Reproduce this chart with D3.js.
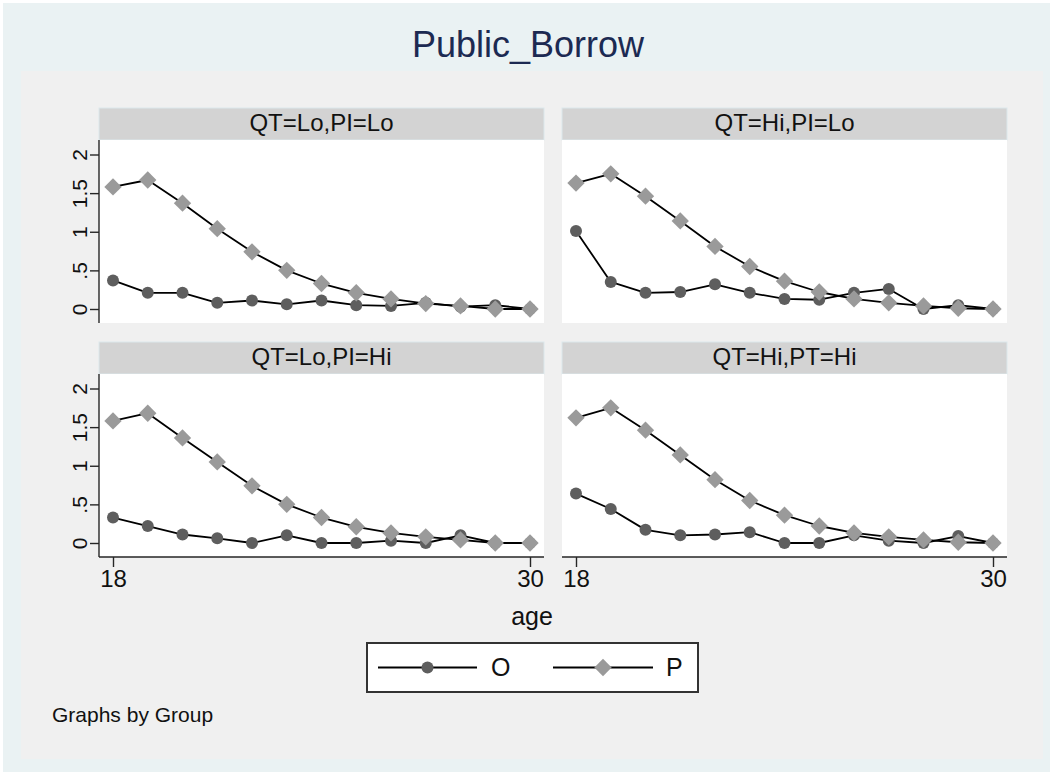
<!DOCTYPE html>
<html>
<head>
<meta charset="utf-8">
<script src="https://cdn.jsdelivr.net/npm/d3@7"></script>
<style>
  html, body { margin: 0; padding: 0; background: #ffffff; }
  svg { display: block; }
  text { font-family: "Liberation Sans", Arial, Helvetica, sans-serif; }
</style>
</head>
<body>
<svg id="chart" width="1050" height="772"></svg>
<script>
// ---- data ----
const ages = [18, 19, 20, 21, 22, 23, 24, 25, 26, 27, 28, 29, 30];
const panelTitles = ["QT=Lo,PI=Lo", "QT=Hi,PI=Lo", "QT=Lo,PI=Hi", "QT=Hi,PT=Hi"];
const seriesNames = ["O", "P"];
const oLoLo = [0.37, 0.21, 0.21, 0.08, 0.11, 0.06, 0.11, 0.05, 0.04, 0.08, 0.03, 0.05, 0.00];
const pLoLo = [1.58, 1.67, 1.37, 1.04, 0.74, 0.50, 0.33, 0.21, 0.13, 0.07, 0.04, 0.00, 0.00];
const oHiLo = [1.01, 0.35, 0.21, 0.22, 0.32, 0.21, 0.13, 0.12, 0.21, 0.26, 0.00, 0.05, 0.00];
const pHiLo = [1.63, 1.75, 1.46, 1.14, 0.81, 0.55, 0.36, 0.22, 0.13, 0.08, 0.04, 0.01, 0.00];
const oLoHi = [0.33, 0.22, 0.11, 0.06, 0.00, 0.10, 0.00, 0.00, 0.03, 0.00, 0.10, 0.00, 0.00];
const pLoHi = [1.58, 1.68, 1.36, 1.05, 0.74, 0.50, 0.33, 0.21, 0.13, 0.08, 0.04, 0.00, 0.00];
const oHiHi = [0.64, 0.44, 0.17, 0.10, 0.11, 0.14, 0.00, 0.00, 0.10, 0.03, 0.00, 0.09, 0.00];
const pHiHi = [1.62, 1.75, 1.46, 1.14, 0.82, 0.55, 0.36, 0.22, 0.13, 0.08, 0.04, 0.01, 0.00];
const yTickValues = [0, 0.5, 1, 1.5, 2];
const yTickLabels = ["0", ".5", "1", "1.5", "2"];
const xTickValues = [18, 30];

const panelO = [oLoLo, oHiLo, oLoHi, oHiHi];
const panelP = [pLoLo, pHiLo, pLoHi, pHiHi];

// ---- layout ----
const svg = d3.select("#chart");
const colX = [99, 562];
const panelW = 445;
const stripY = [108, 342];
const stripH = 32;
const plotH = 183;
const circleColor = "#5e5e5e";
const diamondColor = "#9a9a9a";
const axisColor = "#262626";

svg.append("rect").attr("x", 3).attr("y", 3).attr("width", 1047).attr("height", 769).attr("fill", "#eaf2f3");
svg.append("rect").attr("x", 21).attr("y", 71).attr("width", 1022).attr("height", 688).attr("fill", "#f0f0f0");

svg.append("text").attr("x", 528).attr("y", 57).attr("text-anchor", "middle")
  .attr("font-size", 36).attr("fill", "#1c2a52").text("Public_Borrow");

const diamond = d3.symbol().type(d3.symbolSquare).size(150);

panelTitles.forEach((title, i) => {
  const col = i % 2, row = Math.floor(i / 2);
  const x0 = colX[col];
  const sy = stripY[row];
  const top = sy + stripH;
  const bottom = top + plotH;
  const g = svg.append("g");

  // strip
  g.append("rect").attr("x", x0).attr("y", sy).attr("width", panelW).attr("height", stripH)
    .attr("fill", "#d3d3d3").attr("stroke", "#dbe7eb").attr("stroke-width", 1);
  g.append("text").attr("x", x0 + panelW / 2).attr("y", sy + 23).attr("text-anchor", "middle")
    .attr("font-size", 24).attr("fill", "#111").text(title);

  // plot region
  g.append("rect").attr("x", x0).attr("y", top).attr("width", panelW).attr("height", plotH).attr("fill", "#ffffff");

  const x = d3.scaleLinear().domain([18, 30]).range([x0 + 14, x0 + panelW - 14]);
  const y = d3.scaleLinear().domain([0, 2]).range([bottom - 14, top + 14.5]);

  // y axis on left column
  if (col === 0) {
    const ya = g.append("g").attr("transform", `translate(${x0},0)`)
      .call(d3.axisLeft(y).tickValues(yTickValues).tickSize(9).tickPadding(0)
        .tickFormat((d, k) => yTickLabels[k]));
    ya.select(".domain").attr("d", `M0,${top}V${bottom}`).attr("stroke", axisColor).attr("stroke-width", 1.4);
    ya.selectAll(".tick line").attr("stroke", axisColor).attr("stroke-width", 1.4);
    ya.selectAll(".tick text").attr("font-size", 21).attr("fill", "#111")
      .attr("text-anchor", "middle").attr("x", null).attr("dy", null)
      .attr("transform", "translate(-12.5,0) rotate(-90)")
      .style("font-family", '"Liberation Sans", Arial, sans-serif');
  }
  // x axis on bottom row
  if (row === 1) {
    const xa = g.append("g").attr("transform", `translate(0,${bottom})`)
      .call(d3.axisBottom(x).tickValues(xTickValues).tickSize(10).tickPadding(3).tickFormat(d3.format("d")));
    xa.select(".domain").attr("d", `M${x0},0H${x0 + panelW}`).attr("stroke", axisColor).attr("stroke-width", 1.4);
    xa.selectAll(".tick line").attr("stroke", axisColor).attr("stroke-width", 1.4);
    xa.selectAll(".tick text").attr("font-size", 24).attr("fill", "#111")
      .style("font-family", '"Liberation Sans", Arial, sans-serif');
  }

  const line = d3.line().x((d, k) => x(ages[k])).y(d => y(d));

  // series O
  g.append("path").datum(panelO[i]).attr("d", line).attr("fill", "none")
    .attr("stroke", "#000").attr("stroke-width", 1.8).attr("stroke-linejoin", "round");
  g.selectAll(null).data(panelO[i]).enter().append("circle")
    .attr("cx", (d, k) => x(ages[k])).attr("cy", d => y(d)).attr("r", 6).attr("fill", circleColor);

  // series P
  g.append("path").datum(panelP[i]).attr("d", line).attr("fill", "none")
    .attr("stroke", "#000").attr("stroke-width", 1.8).attr("stroke-linejoin", "round");
  g.selectAll(null).data(panelP[i]).enter().append("path")
    .attr("d", diamond)
    .attr("transform", (d, k) => `translate(${x(ages[k])},${y(d)}) rotate(45)`)
    .attr("fill", diamondColor);
});

// x axis title
svg.append("text").attr("x", 532).attr("y", 625).attr("text-anchor", "middle")
  .attr("font-size", 25).attr("fill", "#111").text("age");

// legend
const lg = svg.append("g");
lg.append("rect").attr("x", 367).attr("y", 643).attr("width", 331).attr("height", 49)
  .attr("fill", "#ffffff").attr("stroke", "#333").attr("stroke-width", 2);
const legendItems = [
  { name: seriesNames[0], x1: 378, x2: 477, tx: 491, type: "circle" },
  { name: seriesNames[1], x1: 553, x2: 653, tx: 666, type: "diamond" }
];
const ly = 667.5;
legendItems.forEach(it => {
  lg.append("line").attr("x1", it.x1).attr("x2", it.x2).attr("y1", ly).attr("y2", ly)
    .attr("stroke", "#000").attr("stroke-width", 1.8);
  const cx = (it.x1 + it.x2) / 2;
  if (it.type === "circle") {
    lg.append("circle").attr("cx", cx).attr("cy", ly).attr("r", 6).attr("fill", circleColor);
  } else {
    lg.append("path").attr("d", diamond).attr("transform", `translate(${cx},${ly}) rotate(45)`).attr("fill", diamondColor);
  }
  lg.append("text").attr("x", it.tx).attr("y", 676).attr("font-size", 25).attr("fill", "#111").text(it.name);
});

// note
svg.append("text").attr("x", 52).attr("y", 722).attr("font-size", 21).attr("fill", "#111").text("Graphs by Group");
</script>
</body>
</html>
